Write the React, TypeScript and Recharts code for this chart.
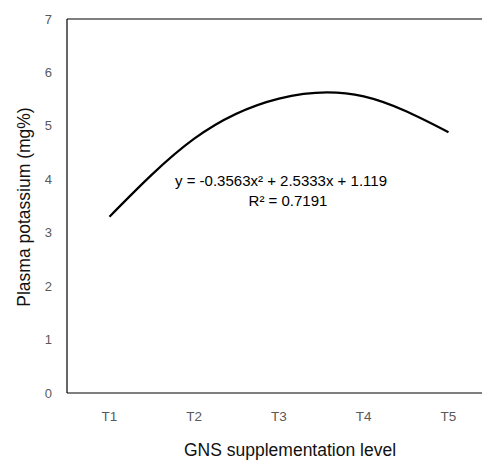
import { LineChart, Line, XAxis, YAxis, ReferenceLine, Customized } from "recharts";

const levels = ["T1", "T2", "T3", "T4", "T5"];
const potassium = [3.3, 4.76, 5.51, 5.55, 4.88];
const yTicks = [0, 1, 2, 3, 4, 5, 6, 7];
const equation = "y = -0.3563x² + 2.5333x + 1.119";
const rSquared = "R² = 0.7191";

const data = levels.map((t, i) => ({ level: t, value: potassium[i] }));

const FONT = "'Liberation Sans', Arial, sans-serif";

// titles + trendline equation, drawn as plain svg text
function Annotations() {
  return (
    <g fontFamily={FONT}>
      <text x={281} y={186} textAnchor="middle" fontSize={15} fill="#000">
        {equation}
      </text>
      <text x={288} y={206} textAnchor="middle" fontSize={15} fill="#000">
        {rSquared}
      </text>
      <text x={290} y={456} textAnchor="middle" fontSize={17.5} fill="#111">
        GNS supplementation level
      </text>
      <text
        x={30}
        y={207}
        textAnchor="middle"
        fontSize={17.5}
        fill="#111"
        transform="rotate(-90 30 207)"
      >
        Plasma potassium (mg%)
      </text>
    </g>
  );
}

export default function App() {
  return (
    <div
      style={{
        position: "absolute",
        left: 0,
        top: 0,
        width: 482,
        height: 463,
        overflow: "hidden",
        background: "#fff",
      }}
    >
      <LineChart
        width={500}
        height={463}
        data={data}
        margin={{ top: 19, right: 9, left: 0, bottom: 0 }}
      >
        <XAxis
          dataKey="level"
          height={70}
          padding={{ left: 42.5, right: 42.5 }}
          tickLine={false}
          tickSize={0}
          tickMargin={18}
          axisLine={{ stroke: "#000", strokeWidth: 1.2 }}
          tick={{ fill: "#595959", fontSize: 13.5, fontFamily: FONT }}
        />
        <YAxis
          width={67}
          domain={[0, 7]}
          ticks={yTicks}
          tickLine={false}
          tickSize={0}
          tickMargin={15}
          axisLine={{ stroke: "#000", strokeWidth: 1.2 }}
          tick={{ fill: "#595959", fontSize: 13, fontFamily: FONT }}
        />
        <ReferenceLine y={7} stroke="#000" strokeWidth={1.2} />
        <Line
          type="natural"
          dataKey="value"
          stroke="#000"
          strokeWidth={2.25}
          dot={false}
          activeDot={false}
          isAnimationActive={false}
        />
        <Customized component={Annotations} />
      </LineChart>
    </div>
  );
}
